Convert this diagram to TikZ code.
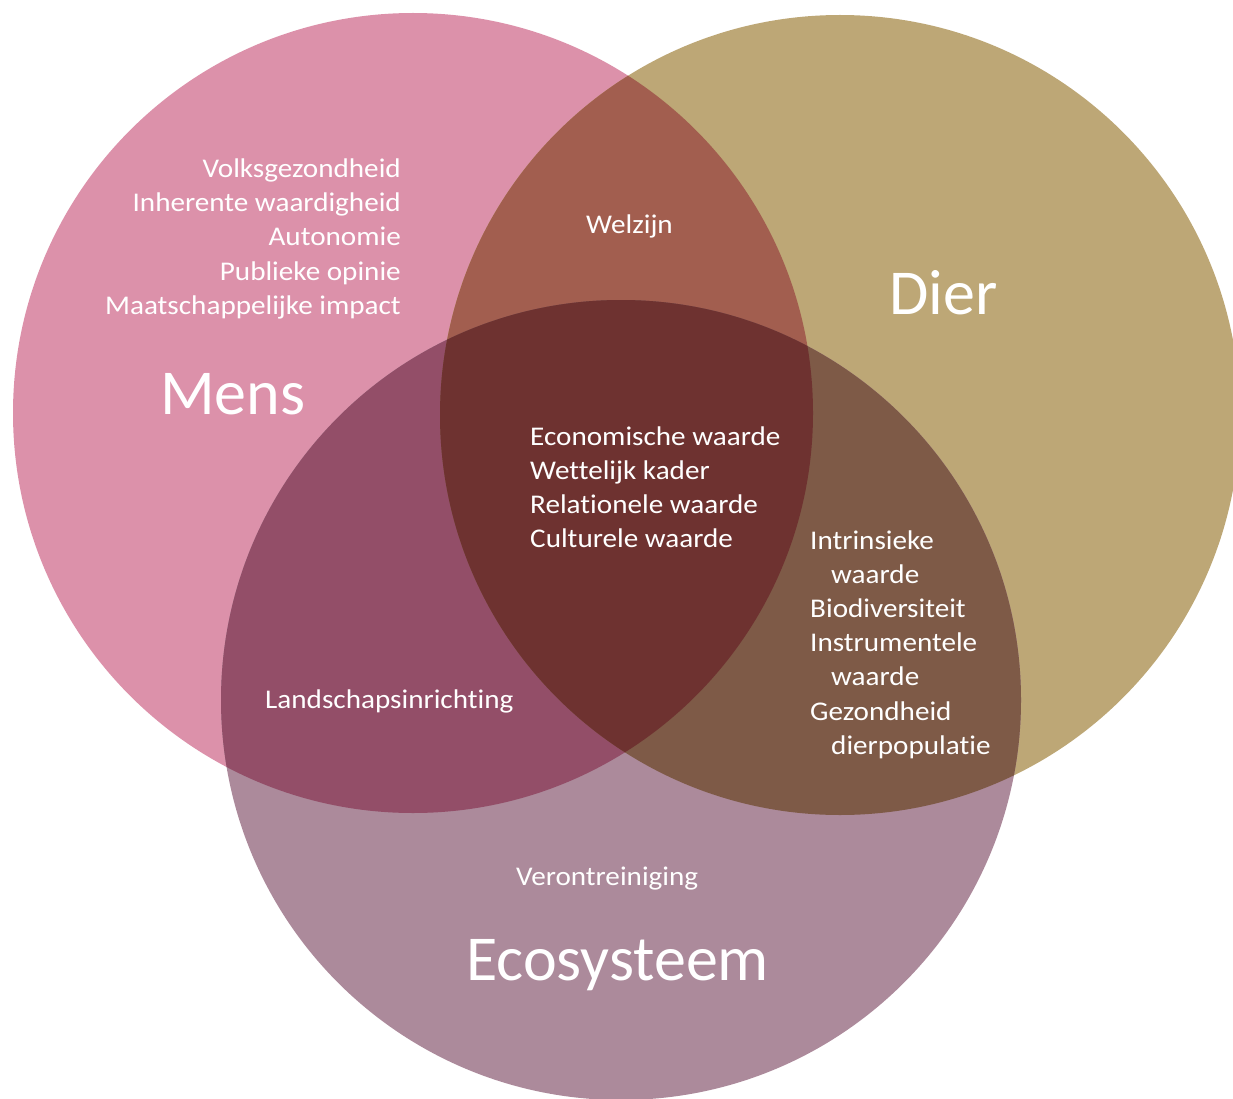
\documentclass[tikz,border=0pt]{standalone}
\usepackage{fontspec}
\setmainfont{Carlito}[Ligatures=NoCommon]
\newfontfamily\lblfont{Carlito}[FakeStretch=1.08,Ligatures=NoCommon]
\definecolor{mensc}{HTML}{DC91AA}
\definecolor{dierc}{HTML}{BDA776}
\definecolor{ecoc}{HTML}{AC8A9B}
\definecolor{mdc}{HTML}{A25E4F}
\definecolor{mec}{HTML}{934E68}
\definecolor{dec}{HTML}{7E5A47}
\definecolor{allc}{HTML}{6E3230}
\begin{document}
\begin{tikzpicture}[x=1pt,y=-1pt,
  smalltxt/.style={text=white,inner sep=0pt,font=\lblfont\fontsize{27}{34}\selectfont},
  bigtxt/.style={text=white,inner sep=0pt,font=\fontsize{64}{70}\selectfont}]
\useasboundingbox (0,0) rectangle (1233,1099);
% base circles
\fill[mensc] (413,413) circle[radius=400pt];
\fill[dierc] (840,415) circle[radius=400pt];
\fill[ecoc] (621,700) circle[radius=400pt];
% pairwise overlaps
\begin{scope}
  \clip (413,413) circle[radius=400pt];
  \fill[mdc] (840,415) circle[radius=400pt];
  \fill[mec] (621,700) circle[radius=400pt];
\end{scope}
\begin{scope}
  \clip (840,415) circle[radius=400pt];
  \fill[dec] (621,700) circle[radius=400pt];
\end{scope}
\begin{scope}
  \clip (413,413) circle[radius=400pt];
  \clip (840,415) circle[radius=400pt];
  \fill[allc] (621,700) circle[radius=400pt];
\end{scope}
% Mens
\node[smalltxt, anchor=base east] (m1) at (401,178) {Volksgezondheid};
\node[smalltxt, anchor=base east] (m2) at (401,212) {Inherente waardigheid};
\node[smalltxt, anchor=base east] (m3) at (401,246) {Autonomie};
\node[smalltxt, anchor=base east] (m4) at (401,280) {Publieke opinie};
\node[smalltxt, anchor=base east] (m5) at (401,314) {Maatschappelijke impact};
\node[bigtxt, anchor=base west] (mens) at (160,414) {Mens};
% Welzijn
\node[smalltxt, anchor=base west] (welzijn) at (586,234) {Welzijn};
% Dier
\node[bigtxt, anchor=base west] (dier) at (889,314) {Dier};
% centre
\node[smalltxt, anchor=base west] (c1) at (530,445) {Economische waarde};
\node[smalltxt, anchor=base west] (c2) at (530,479) {Wettelijk kader};
\node[smalltxt, anchor=base west] (c3) at (530,513) {Relationele waarde};
\node[smalltxt, anchor=base west] (c4) at (530,547) {Culturele waarde};
% Dier-Eco
\node[smalltxt, anchor=base west] (d1) at (810,549) {Intrinsieke};
\node[smalltxt, anchor=base west] (d2) at (831,583) {waarde};
\node[smalltxt, anchor=base west] (d3) at (810,617) {Biodiversiteit};
\node[smalltxt, anchor=base west] (d4) at (810,651) {Instrumentele};
\node[smalltxt, anchor=base west] (d5) at (831,685) {waarde};
\node[smalltxt, anchor=base west] (d6) at (810,720) {Gezondheid};
\node[smalltxt, anchor=base west] (d7) at (831,754) {dierpopulatie};
% Mens-Eco
\node[smalltxt, anchor=base west] (land) at (265,708) {Landschapsinrichting};
% Eco
\node[smalltxt, anchor=base west] (ver) at (516,885) {Verontreiniging};
\node[bigtxt, anchor=base west] (eco) at (466,980) {Ecosysteem};
\end{tikzpicture}
\end{document}
